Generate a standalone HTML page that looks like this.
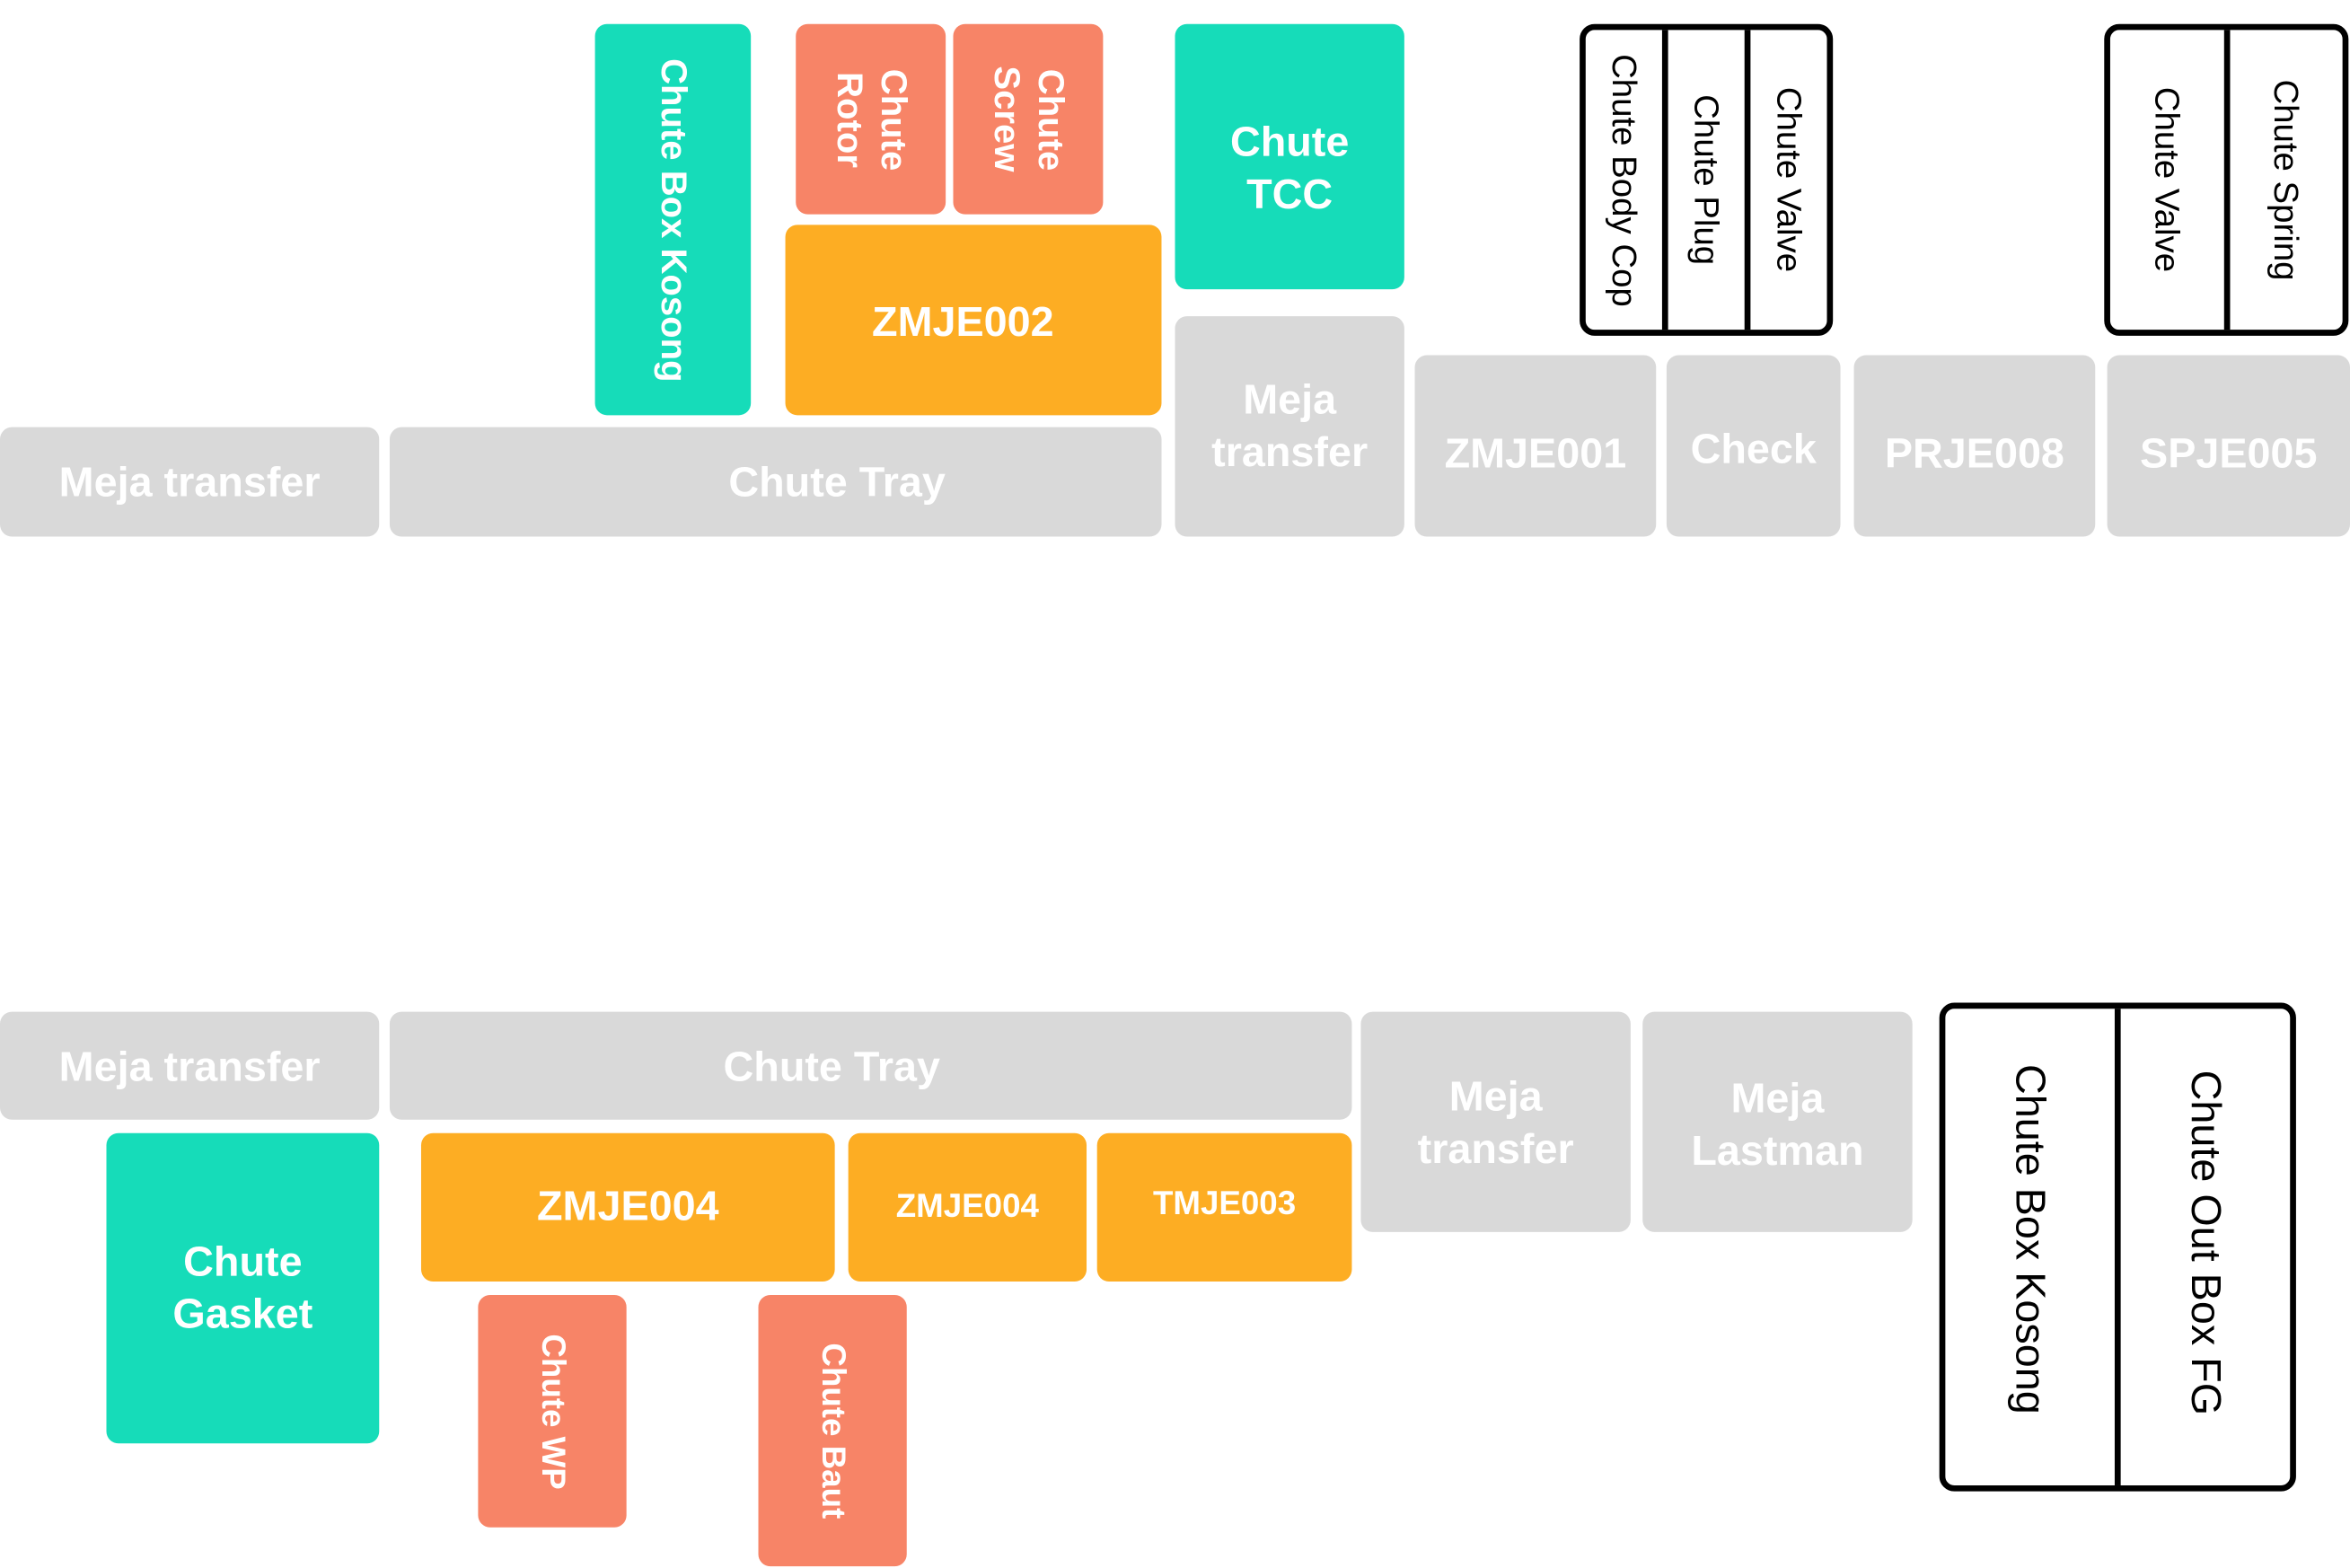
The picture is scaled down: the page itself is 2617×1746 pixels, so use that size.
<!DOCTYPE html>
<html><head><meta charset="utf-8">
<style>
html,body{margin:0;padding:0;background:#fff;}
body{width:2617px;height:1745px;overflow:hidden;position:relative;}
#stage{position:absolute;left:0;top:0;width:1568px;height:1046px;transform:scale(1.669);transform-origin:0 0;}
.b{position:absolute;border-radius:8px;display:flex;align-items:center;justify-content:center;text-align:center;color:#fff;font-family:"Liberation Sans",sans-serif;font-weight:bold;font-size:28px;line-height:1.22;box-sizing:border-box;}
.g{background:#d9d9d9;}
.t{background:#16dcb9;}
.s{background:#f78467;}
.o{background:#fdad23;}
.v{writing-mode:vertical-rl;}
.box{position:absolute;border:4px solid #000;border-radius:10px;display:flex;box-sizing:border-box;background:#fff;}
.col{flex:1;display:flex;align-items:center;justify-content:center;writing-mode:vertical-rl;font-family:"Liberation Sans",sans-serif;font-size:23px;color:#000;}
.col+.col{border-left:4px solid #000;}
</style></head><body>
<div id="stage">
<!-- top -->
<div class="b g" style="left:0;top:285px;width:253px;height:73px;padding-top:2px">Meja transfer</div>
<div class="b g" style="left:260px;top:285px;width:515px;height:73px;padding-left:82px;padding-top:2px">Chute Tray</div>
<div class="b t v" style="left:397px;top:16px;width:104px;height:261px;font-size:24px">Chute Box Kosong</div>
<div class="b s v" style="left:531px;top:16px;width:100px;height:127px;font-size:24px">Chute<br>Rotor</div>
<div class="b s v" style="left:636px;top:16px;width:100px;height:127px;font-size:24px">Chute<br>Screw</div>
<div class="b o" style="left:524px;top:150px;width:251px;height:127px;padding-right:14px;padding-top:4px">ZMJE002</div>
<div class="b t" style="left:784px;top:16px;width:153px;height:177px;padding-top:16px">Chute<br>TCC</div>
<div class="b g" style="left:784px;top:211px;width:153px;height:147px">Meja<br>transfer</div>
<div class="b g" style="left:944px;top:237px;width:161px;height:121px;padding-top:12px">ZMJE001</div>
<div class="b g" style="left:1112px;top:237px;width:116px;height:121px;padding-top:6px">Check</div>
<div class="b g" style="left:1237px;top:237px;width:161px;height:121px;padding-top:12px">PRJE008</div>
<div class="b g" style="left:1406px;top:237px;width:162px;height:121px;padding-top:12px">SPJE005</div>
<div class="box" style="left:1054px;top:16px;width:169px;height:208px">
 <div class="col">Chute Body Cop</div>
 <div class="col">Chute Plug</div>
 <div class="col">Chute Valve</div>
</div>
<div class="box" style="left:1404px;top:16px;width:163px;height:208px">
 <div class="col">Chute Valve</div>
 <div class="col">Chute Spring</div>
</div>
<!-- bottom -->
<div class="b g" style="left:0;top:675px;width:253px;height:72px;padding-top:2px">Meja transfer</div>
<div class="b g" style="left:260px;top:675px;width:642px;height:72px;padding-right:52px;padding-top:2px">Chute Tray</div>
<div class="b g" style="left:908px;top:675px;width:180px;height:147px;padding-top:2px">Meja<br>transfer</div>
<div class="b g" style="left:1096px;top:675px;width:180px;height:147px;padding-top:4px">Meja<br>Lastman</div>
<div class="b t" style="left:71px;top:756px;width:182px;height:207px">Chute<br>Gasket</div>
<div class="b o" style="left:281px;top:756px;width:276px;height:99px">ZMJE004</div>
<div class="b o" style="left:566px;top:756px;width:159px;height:99px;font-size:22px">ZMJE004</div>
<div class="b o" style="left:732px;top:756px;width:170px;height:99px;font-size:22px;padding-bottom:4px">TMJE003</div>
<div class="b s v" style="left:319px;top:864px;width:99px;height:155px;font-size:22px">Chute WP</div>
<div class="b s v" style="left:506px;top:864px;width:99px;height:181px;font-size:22px">Chute Baut</div>
<div class="box" style="left:1294px;top:669px;width:238px;height:326px">
 <div class="col" style="font-size:28px;padding-bottom:10px">Chute Box Kosong</div>
 <div class="col" style="font-size:28px;padding-bottom:6px">Chute Out Box FG</div>
</div>
</div>
</body></html>
